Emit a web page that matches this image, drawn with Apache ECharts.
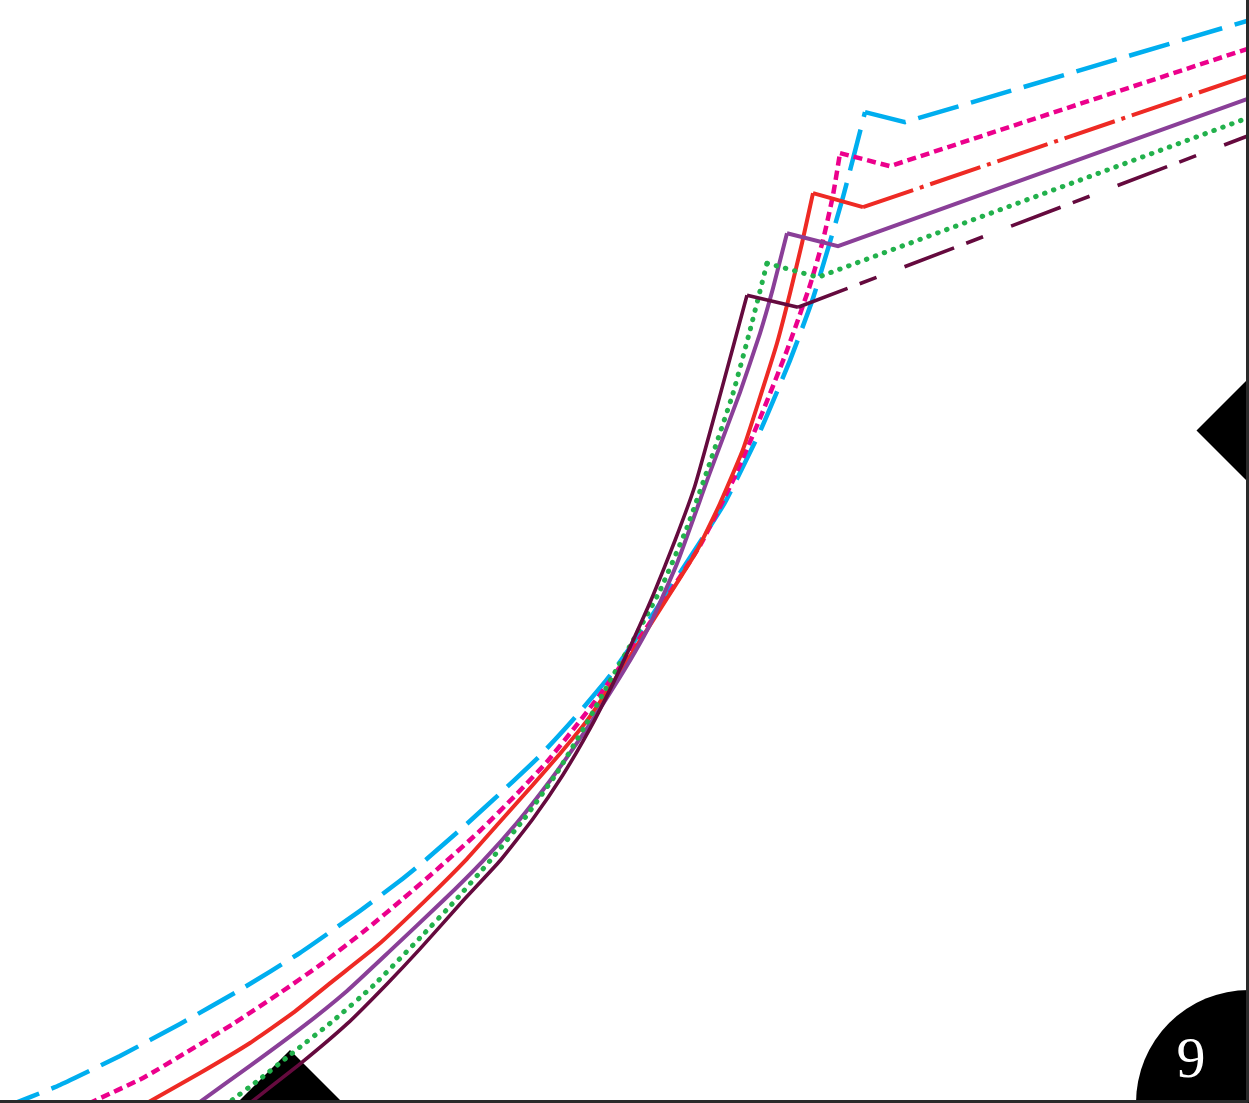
<!DOCTYPE html>
<html><head><meta charset="utf-8">
<script src="https://cdn.jsdelivr.net/npm/echarts@6/dist/echarts.min.js"></script>
<style>html,body{margin:0;padding:0;background:#fff;overflow:hidden}#c{width:1249px;height:1103px}</style>
</head><body><div id="c"></div>
<script>
// Data (x, y) in chart units
const cyanPts = [[0,-0.8],[6,1.6],[12,4.5],[18,7.7],[24,11.1],[30,14.8],[36,19],[40,22],[42.7,24.2],[46.7,27.7],[50.3,31],[54,34.5],[57.3,38.1],[61,42.5],[65,48.2],[69,54.3],[72.5,59.8],[76,66.9],[79,74],[81.3,80.2],[84.3,90.3],[86.5,98.8],[90.5,97.8],[125,108]];
const pinkPts = [[0,-4.4],[9.2,-0.1],[14.3,2.3],[18.7,4.9],[23.3,7.7],[28,10.8],[32.3,13.8],[36.7,17.2],[40.3,20.2],[44,23.4],[48,27],[51.7,30.7],[54.7,33.9],[57.7,37.6],[60,40.6],[62,43.4],[65,47.8],[70,55.5],[73.3,62],[76,68.2],[78.7,75],[81,81.5],[82.3,86],[83.3,90.5],[84,94.7],[89,93.4],[125,105.2]];
const redPts = [[10,-2.8],[14.7,-0.2],[20,2.8],[25,5.8],[29.3,8.8],[33.3,12],[37.7,15.5],[42.5,20],[46.7,24.2],[50,27.9],[53.3,31.6],[56,34.7],[58.7,38],[61.3,41.8],[63.3,44.9],[66.7,50.2],[69.7,55],[72,59.7],[74.3,65.1],[76,70.3],[77.7,75.7],[79,80.7],[80.2,85.7],[81.3,90.7],[86.3,89.3],[125,102.5]];
const purplePts = [[15,-3.8],[19.7,-0.3],[25,3.5],[30,7.2],[34.7,11],[39,15],[44.3,20],[48.3,24],[51.7,27.8],[55,32],[58,36.2],[60.7,40.3],[62.7,43.5],[65,47.6],[67.7,53.7],[71,62.8],[74,70.8],[76,76.7],[77.3,81.2],[78.7,86.7],[83.8,85.4],[125,100.2]];
const greenPts = [[18,-4],[22.7,-0.3],[26,2.2],[29,4.6],[33.3,8],[37.3,11.5],[42,16.3],[45.5,20],[49,24],[52.5,28.3],[55.7,32.8],[58.7,37.8],[61.3,42.5],[63.3,46],[66,51],[68.7,57.3],[71,63.8],[73.3,70.7],[75,77],[76.7,83.7],[81.8,82.3],[125,98.3]];
const maroonPts = [[20,-4.1],[25,-0.2],[30,3.7],[34.7,7.7],[38.7,11.7],[42,15.2],[46.3,20],[50,24],[53.3,28.2],[56.3,32.6],[59,37.2],[61.3,41.7],[63.3,46],[65.3,50.5],[67.5,56],[69.5,61.5],[72,70.5],[74.7,80.5],[79.8,79.3],[125,96.5]];
const xMarker = [[29,0]];
const yMarker = [[124.7,67]];
const pageLabel = '9';

function peakIndex(pts) {
  let k = 0;
  for (let i = 0; i < pts.length - 1; i++) if (pts[i][1] > pts[k][1]) k = i;
  return k;
}

function seg(data, color, width, type, opts) {
  opts = opts || {};
  return {
    type: 'line', data, showSymbol: false, symbol: 'none', silent: true, z: 3,
    smooth: opts.smooth || false,
    lineStyle: { color, width, type, cap: opts.cap || 'butt', join: opts.join || 'miter' }
  };
}

// lower curve, then the upper part (peak -> dip -> end) as straight segments
function build(pts, color, width, lowType, upType, endType, opts) {
  const p = peakIndex(pts);
  const out = [seg(pts.slice(0, p + 1), color, width, lowType, Object.assign({ smooth: 0.15 }, opts))];
  if (endType) {
    out.push(seg(pts.slice(p, p + 2), color, width, upType, opts));
    out.push(seg(pts.slice(p + 1), color, width, endType, opts));
  } else {
    out.push(seg(pts.slice(p), color, width, upType, opts));
  }
  return out;
}

const chart = echarts.init(document.getElementById('c'), null, { renderer: 'canvas' });
chart.setOption({
  animation: false,
  backgroundColor: '#ffffff',
  grid: { left: 0, right: 2, top: 0, bottom: 2 },
  xAxis: { type: 'value', min: 0, max: 124.7, position: 'bottom', z: 10,
    axisLine: { show: true, onZero: false, lineStyle: { color: '#2a2a2a', width: 3 } },
    axisTick: { show: false }, axisLabel: { show: false }, splitLine: { show: false } },
  yAxis: { type: 'value', min: 0, max: 110, position: 'right', z: 10,
    axisLine: { show: true, onZero: false, lineStyle: { color: '#2a2a2a', width: 3 } },
    axisTick: { show: false }, axisLabel: { show: false }, splitLine: { show: false } },
  graphic: [
    { type: 'circle', shape: { cx: 1249, cy: 1103, r: 113 }, style: { fill: '#000' }, z: 1 },
    { type: 'text', x: 1191, y: 1062, z: 2,
      style: { text: pageLabel, fill: '#fff', font: '58px "Liberation Serif"', align: 'center', verticalAlign: 'middle' } }
  ],
  series: [
    { type: 'scatter', data: xMarker, symbol: 'diamond', symbolSize: [102, 102], clip: false, silent: true, z: 1,
      itemStyle: { color: '#000', opacity: 1 } },
    { type: 'scatter', data: yMarker, symbol: 'diamond', symbolSize: [101, 101], clip: false, silent: true, z: 1,
      itemStyle: { color: '#000', opacity: 1 } },
    ...build(cyanPts, '#00AEEF', 4.5, [42, 13], [42, 13]),
    ...build(pinkPts, '#EC008C', 4.5, [9, 5], [9, 5]),
    ...build(redPts, '#EE2A24', 4, 'solid', 'solid', [53, 7, 4, 7]),
    ...build(purplePts, '#8A3F98', 4, 'solid', 'solid'),
    ...build(greenPts, '#22B14C', 5, [0.5, 9], [0.5, 9], null, { cap: 'round', join: 'round' }),
    ...build(maroonPts, '#650A3E', 3.6, 'solid', 'solid', [53, 13, 18, 30])
  ]
});
</script></body></html>
